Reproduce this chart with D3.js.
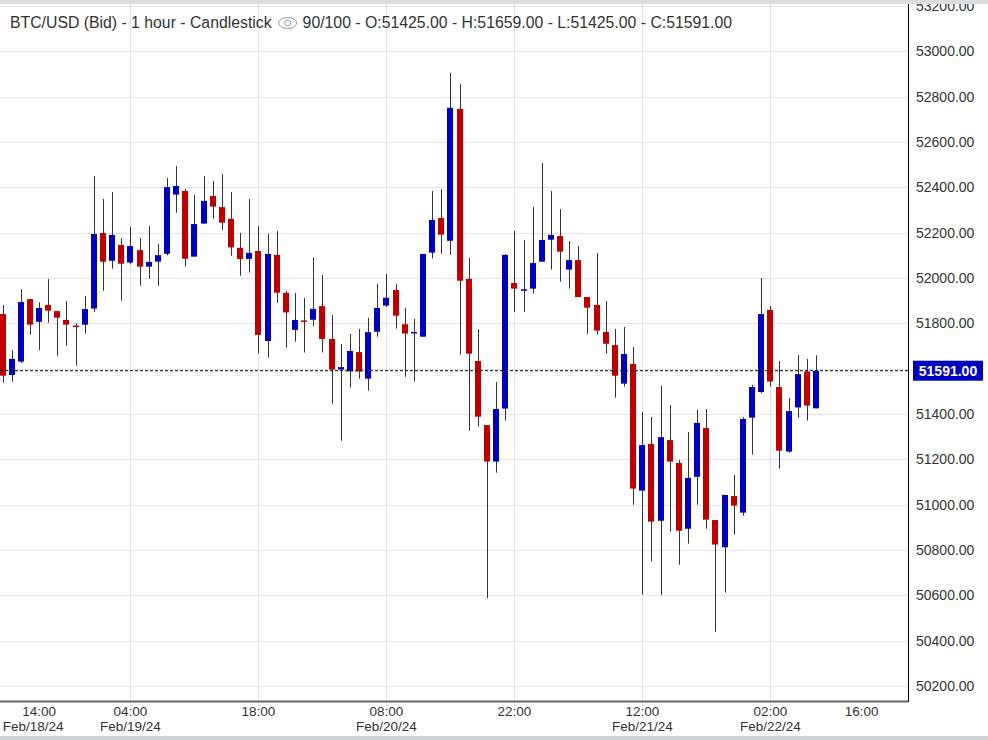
<!DOCTYPE html>
<html><head><meta charset="utf-8">
<script src="https://cdn.jsdelivr.net/npm/d3@7"></script>
<style>body{margin:0;background:#fff}svg{display:block}</style>
</head><body><svg id="c" width="988" height="740"></svg>
<script>
const opens  = [51841,51572,51631,51907,51807,51881,51854,51815,51790,51794,51865,52199,52076,52146,52068,52123,52050,52072,52107,52368,52384,52094,52240,52362,52313,52261,52133,52084,52119,51722,52102,51935,51771,51813,51816,51876,51731,51596,51588,51673,51556,51763,51878,51947,51796,51757,51741,52112,52265,52164,52746,51996,51634,51351,51190,51424,51978,51948,51953,52072,52169,52185,52037,52079,51916,51881,51762,51704,51534,51621,51062,51268,50929,51285,51184,50894,51123,51338,50932,50812,51038,50965,51384,51497,51859,51519,51234,51429,51588,51425];
const highs  = [51881,51682,51951,51907,51893,51995,51854,51898,51800,51920,52450,52349,52379,52176,52225,52176,52229,52150,52441,52494,52393,52366,52450,52428,52459,52379,52199,52349,52229,52195,52207,51942,51934,51912,52091,52013,51837,51709,51753,51775,51824,51974,52018,51974,51868,51820,52106,52384,52393,52905,52856,52088,51775,51351,51541,52106,52207,52168,52313,52507,52384,52304,52163,52141,51916,52110,51898,51775,51784,51696,51409,51387,51524,51440,51197,51321,51418,51422,50932,51043,51131,51387,51528,52000,51876,51634,51471,51660,51643,51659];
const lows   = [51538,51543,51625,51750,51682,51803,51657,51701,51613,51754,51850,51944,52041,51900,52060,51966,51997,51966,52100,52288,52050,52147,52240,52262,52212,52098,52010,52024,51667,51649,51890,51693,51719,51671,51788,51671,51446,51282,51517,51556,51503,51741,51873,51777,51564,51544,51741,52086,52108,52103,51662,51326,51344,50587,51141,51371,51850,51850,51931,52072,52037,51984,51953,51916,51754,51750,51666,51472,51521,51000,50603,50749,50603,50881,50735,50828,51000,50894,50440,50612,50868,50951,51221,51491,51521,51159,51229,51384,51371,51425];
const closes = [51569,51643,51894,51794,51868,51856,51825,51794,51788,51863,52194,52072,52190,52063,52141,52050,52071,52101,52401,52406,52085,52238,52340,52315,52244,52135,52084,52111,51749,52106,51935,51848,51815,51811,51864,51731,51596,51607,51678,51588,51761,51868,51913,51834,51755,51762,52106,52256,52191,52751,51988,51666,51388,51190,51422,52102,51953,51950,52066,52168,52190,52116,52079,51916,51869,51768,51710,51569,51665,51071,51263,50925,51298,51190,50885,51118,51361,50934,50824,51043,50996,51378,51519,51841,51543,51238,51413,51576,51437,51591];
const tickIdx   = [4,14,28,42,56,70,84,94];
const tickTimes = ["14:00","04:00","18:00","08:00","22:00","12:00","02:00","16:00"];
const tickDates = ["Feb/18/24","Feb/19/24","","Feb/20/24","","Feb/21/24","Feb/22/24",""];
const yTicks = d3.range(50200, 53201, 200);
const title = "BTC/USD (Bid) - 1 hour - Candlestick";
const titleTail = "90/100 - O:51425.00 - H:51659.00 - L:51425.00 - C:51591.00";
const lastPrice = 51591;

const svg = d3.select("#c");
const W = 908, H = 701;
const x = d3.scaleLinear().domain([0, 89]).range([2.5, 816]);
const y = d3.scaleLinear().domain([50200, 53200]).range([686, 6]);
const font = "'Liberation Sans', Arial, sans-serif";

const g = svg.append("g");
g.append("defs").append("clipPath").attr("id","clip").append("rect").attr("x",0).attr("y",0).attr("width",W).attr("height",H);
const grid = g.append("g");
grid.selectAll("line.h").data(yTicks).join("line").attr("x1",0).attr("x2",W).attr("y1",d=>Math.round(y(d))+0.5).attr("y2",d=>Math.round(y(d))+0.5).attr("stroke","#e4e4e4");
grid.selectAll("line.v").data(tickIdx.slice(1,7)).join("line").attr("y1",0).attr("y2",H).attr("x1",d=>Math.round(x(d))+0.5).attr("x2",d=>Math.round(x(d))+0.5).attr("stroke","#e4e4e4");

const plot = g.append("g").attr("clip-path","url(#clip)");
const idx = d3.range(opens.length);
plot.selectAll("line.w").data(idx).join("line").attr("x1",i=>Math.round(x(i))+0.5).attr("x2",i=>Math.round(x(i))+0.5)
  .attr("y1",i=>y(highs[i])).attr("y2",i=>y(lows[i])).attr("stroke","#333").attr("stroke-width",1);
plot.selectAll("rect.b").data(idx).join("rect").attr("x",i=>Math.round(x(i))-3).attr("width",6)
  .attr("y",i=>y(Math.max(opens[i],closes[i]))).attr("height",i=>Math.max(1.5,Math.abs(y(opens[i])-y(closes[i]))))
  .attr("fill",i=>closes[i]>=opens[i]?"#0000c0":"#c00000");

g.append("line").attr("x1",0).attr("x2",W).attr("y1",y(lastPrice)).attr("y2",y(lastPrice)).attr("stroke","#000").attr("stroke-dasharray","3,2");

g.append("line").attr("x1",908.5).attr("x2",908.5).attr("y1",0).attr("y2",702).attr("stroke","#000");
g.append("line").attr("x1",0).attr("x2",908).attr("y1",701.5).attr("y2",701.5).attr("stroke","#666").attr("stroke-width",2);

// y labels (hide those covered by the price box)
g.selectAll("text.y").data(yTicks.filter(d=>Math.abs(y(d)-y(lastPrice))>16)).join("text").attr("x",916).attr("y",d=>y(d)+5).text(d=>d.toFixed(2))
  .attr("font-family",font).attr("font-size",14).attr("fill","#333");
g.append("rect").attr("x",913).attr("y",y(lastPrice)-10).attr("width",70).attr("height",20).attr("fill","#0000c0");
g.append("text").attr("x",948).attr("y",y(lastPrice)+5).attr("text-anchor","middle").text(lastPrice.toFixed(2))
  .attr("font-family",font).attr("font-size",14).attr("font-weight","bold").attr("fill","#fff");

tickIdx.forEach((t,k)=>{
  const px = x(t);
  g.append("text").attr("x",px).attr("y",716).attr("text-anchor","middle").text(tickTimes[k]).attr("font-family",font).attr("font-size",13.5).attr("fill","#333");
  if (tickDates[k]) g.append("text").attr("x",px - (k===0?6:0)).attr("y",731).attr("text-anchor","middle").text(tickDates[k]).attr("font-family",font).attr("font-size",13.5).attr("fill","#333");
});

g.append("rect").attr("x",0).attr("y",0).attr("width",988).attr("height",4).attr("fill","#ddd");
g.append("rect").attr("x",0).attr("y",736).attr("width",988).attr("height",4).attr("fill","#ccd4d4");

const t1 = g.append("text").attr("x",10).attr("y",28).attr("font-family",font).attr("font-size",15.8).attr("fill","#333").text(title);
const w1 = t1.node().getComputedTextLength();
const ex = 10 + w1 + 16;
g.append("ellipse").attr("cx",ex).attr("cy",23).attr("rx",9).attr("ry",5.5).attr("fill","none").attr("stroke","#999");
g.append("circle").attr("cx",ex).attr("cy",23).attr("r",3).attr("fill","none").attr("stroke","#999");
g.append("text").attr("x",ex+15).attr("y",28).attr("font-family",font).attr("font-size",15.8).attr("fill","#333").text(titleTail);
</script></body></html>
